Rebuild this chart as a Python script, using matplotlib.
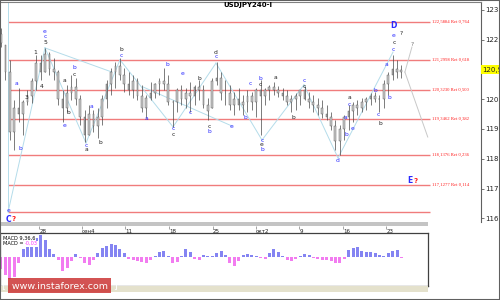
import matplotlib
import matplotlib.pyplot as plt
import numpy as np
from matplotlib.patches import Rectangle

matplotlib.use("Agg")

# half-day bars, x measured in trading days
bar_x = np.arange(92) * 0.5
highs = [122.39, 121.82, 121.32, 119.97, 120.38, 119.97, 120.31, 120.71, 121.48, 121.48,
         121.72, 121.58, 121.38, 120.98, 120.31, 120.48, 120.81, 120.71, 120.14, 119.64,
         119.81, 119.64, 119.70, 120.14, 120.64, 121.05, 121.25, 121.38, 121.05, 120.91,
         120.81, 120.71, 120.48, 120.14, 120.58, 120.54, 120.71, 121.05, 120.81, 119.97,
         120.38, 120.48, 120.38, 120.58, 120.48, 120.64, 120.48, 120.04, 120.71, 121.25,
         120.91, 120.64, 120.48, 120.24, 120.38, 120.14, 120.31, 120.24, 120.38, 120.64,
         120.38, 120.48, 120.58, 120.44, 120.38, 120.31, 120.14, 120.21, 120.31, 120.44,
         120.24, 120.14, 120.04, 119.97, 119.81, 119.57, 119.30, 119.13, 119.47, 119.81,
         119.91, 119.97, 120.04, 120.07, 120.21, 120.24, 120.14, 120.64, 120.91, 121.48,
         121.32, 121.15]
lows = [121.75, 120.64, 118.63, 118.30, 119.23, 118.80, 119.81, 119.87, 120.31, 120.64,
        120.91, 120.81, 120.64, 119.81, 119.23, 119.57, 119.97, 119.81, 119.13, 118.56,
        118.80, 118.90, 118.70, 119.13, 119.70, 120.14, 120.38, 120.64, 120.24, 120.14,
        120.04, 119.97, 119.57, 119.37, 119.97, 120.04, 120.14, 120.31, 119.81, 119.07,
        119.57, 119.81, 119.70, 119.57, 119.81, 119.97, 119.70, 119.30, 119.70, 120.48,
        119.97, 119.81, 119.64, 119.47, 119.64, 119.47, 119.57, 119.64, 119.40, 118.80,
        119.81, 119.97, 120.14, 120.07, 119.97, 119.81, 119.57, 119.64, 119.81, 119.97,
        119.70, 119.57, 119.47, 119.37, 119.30, 118.97, 118.30, 118.13, 118.63, 118.97,
        119.23, 119.47, 119.57, 119.64, 119.81, 119.91, 119.57, 119.70, 120.14, 120.64,
        120.71, 120.71]
closes = [121.90, 120.90, 118.90, 119.70, 119.50, 119.90, 120.10, 120.60, 121.20, 120.90,
          121.50, 121.00, 120.90, 120.00, 119.70, 120.20, 120.40, 120.00, 119.40, 118.80,
          119.50, 119.10, 119.40, 120.00, 120.50, 120.90, 121.10, 120.80, 120.50, 120.30,
          120.60, 120.10, 119.70, 120.05, 120.20, 120.50, 120.60, 120.50, 119.90, 119.90,
          120.30, 120.00, 120.20, 120.10, 120.40, 120.30, 119.80, 119.60, 120.60, 120.70,
          120.20, 120.20, 119.80, 120.00, 119.80, 119.90, 120.10, 119.90, 120.30, 120.10,
          120.30, 120.40, 120.30, 120.20, 120.10, 119.90, 120.00, 120.10, 120.30, 120.00,
          119.90, 119.80, 119.70, 119.50, 119.40, 119.10, 118.60, 119.00, 119.40, 119.60,
          119.80, 119.70, 119.90, 120.00, 120.10, 120.00, 120.00, 120.50, 120.80, 121.00,
          120.90, 120.99]
first_open = 122.20

macd_hist = [-0.24, -0.36, -0.44, -0.40, -0.12, 0.16, 0.24, 0.30, 0.38, 0.44,
             0.34, 0.16, 0.06, -0.06, -0.28, -0.22, -0.08, 0.06, -0.02, -0.12,
             -0.16, -0.06, 0.08, 0.18, 0.22, 0.26, 0.24, 0.16, 0.08, -0.04,
             -0.06, -0.08, -0.10, -0.12, -0.06, 0.02, 0.10, 0.12, 0.02, -0.12,
             -0.10, 0.02, 0.16, 0.10, -0.04, -0.06, 0.04, 0.02, 0.02, 0.08,
             0.12, 0.04, -0.12, -0.18, -0.08, 0.04, 0.06, 0.04, 0.02, -0.02,
             -0.04, 0.08, 0.16, 0.10, 0.02, -0.06, -0.08, -0.04, 0.02, 0.06,
             0.04, -0.02, -0.04, -0.06, -0.06, -0.08, -0.12, -0.12, -0.04, 0.14,
             0.18, 0.20, 0.12, 0.10, 0.10, 0.08, 0.04, 0.02, 0.08, 0.12,
             0.14, -0.02]

level_prices = [122.5884, 121.2998, 120.3230, 119.3462, 118.1376, 117.1277]
level_ratios = ["0,764", "0,618", "0,500", "0,382", "0,236", "0,114"]
base_level = 116.2

price_ticks = [116, 117, 118, 119, 120, 122, 123]
last_price = 120.992

date_ticks = [4.35, 9.17, 14.1, 19.1, 24.1, 29.0, 33.9, 38.9, 43.8]
date_labels = ["28", "сен4", "11", "18", "25", "окт2", "9", "16", "23"]

# wave count lines (day, price) pairs
wave_x = [[0.8, 0.8], [0.8, 5.0], [5.0, 12.61], [5.0, 9.66], [9.66, 13.52], [13.52, 19.55],
          [19.55, 24.43], [16.14, 26.25], [24.43, 29.66], [29.66, 34.43], [34.43, 38.3],
          [38.3, 44.55]]
wave_y = [[123.26, 116.21], [116.21, 121.72], [121.72, 120.91], [121.72, 118.53],
          [118.53, 121.32], [121.32, 119.07], [119.07, 121.21], [120.41, 119.10],
          [121.21, 118.63], [118.63, 120.48], [120.48, 118.03], [118.03, 121.58]]
future_x = [[45.9, 46.7], [45.9, 48.5]]
future_y = [[120.91, 121.75], [120.91, 118.73]]

# wave labels: text, day, price, colour key
wave_labels = [
    ("a", 1.70, 120.54, "b"), ("b", 2.16, 118.33, "b"), ("3", 2.84, 120.07, "k"),
    ("1", 3.86, 121.55, "k"), ("4", 4.66, 120.41, "k"), ("e", 5.0, 122.26, "b"),
    ("c", 5.0, 122.09, "b"), ("5", 5.0, 121.89, "k"), ("a", 7.16, 120.64, "k"),
    ("e", 7.16, 119.13, "b"), ("b", 7.61, 119.57, "k"), ("b", 8.3, 121.05, "b"),
    ("c", 8.3, 120.84, "k"), ("a", 10.23, 119.74, "b"), ("c", 9.66, 118.46, "b"),
    ("a", 9.66, 118.30, "k"), ("b", 11.25, 118.56, "k"), ("b", 13.64, 121.68, "k"),
    ("c", 13.64, 121.48, "b"), ("a", 16.48, 119.34, "b"), ("b", 18.86, 121.18, "b"),
    ("c", 19.55, 119.0, "b"), ("c", 19.55, 118.80, "k"), ("e", 20.68, 120.85, "b"),
    ("c", 21.48, 119.57, "b"), ("b", 22.6, 120.71, "k"), ("c", 23.64, 119.07, "k"),
    ("b", 23.64, 118.90, "b"), ("d", 24.43, 121.58, "k"), ("c", 24.43, 121.42, "b"),
    ("e", 26.25, 119.10, "b"), ("b", 27.8, 119.40, "b"), ("c", 28.3, 120.51, "b"),
    ("b", 29.43, 120.68, "b"), ("c", 29.43, 120.48, "k"), ("c", 29.66, 118.63, "b"),
    ("e", 29.66, 118.47, "k"), ("b", 29.66, 118.30, "b"), ("a", 31.14, 120.74, "k"),
    ("b", 33.2, 119.40, "k"), ("c", 34.43, 120.64, "b"), ("c", 34.43, 120.41, "k"),
    ("d", 38.3, 117.93, "b"), ("a", 39.1, 119.40, "b"), ("a", 39.55, 120.04, "k"),
    ("c", 39.55, 119.81, "b"), ("b", 39.3, 118.80, "b"), ("e", 40.0, 119.03, "b"),
    ("b", 42.5, 120.28, "b"), ("c", 42.84, 119.47, "b"), ("b", 43.07, 119.20, "k"),
    ("b", 44.09, 120.04, "b"), ("a", 43.75, 121.15, "b"), ("c", 44.55, 121.65, "b"),
    ("c", 44.66, 121.89, "k"), ("e", 44.55, 122.15, "b"), ("?", 45.45, 122.19, "k"),
    ("?", 46.7, 121.85, "g"), ("e", 0.8, 116.27, "b"),
]
big_labels = [("D", 44.55, 122.46, "b"), ("E", 46.5, 117.26, "b"), ("C", 0.8, 115.98, "b")]
question_marks = [(47.1, 117.26), (1.45, 115.98)]

label_colors = {"b": "#2a2aff", "k": "#202020", "g": "#707070"}

fig = plt.figure(figsize=(5, 3), dpi=100)
fig.patch.set_facecolor("white")

# main price panel
ax = fig.add_axes([0, 1 - 222 / 300, 481 / 500, 220 / 300])
ax.set_xlim(-0.114, 54.55)
ax.set_ylim(115.88, 123.26)
for side in ["left", "bottom"]:
    ax.spines[side].set_visible(False)
ax.spines["top"].set_color("#808080")
ax.spines["right"].set_color("#606060")
ax.spines["right"].set_linewidth(0.8)
ax.set_xticks([])
ax.yaxis.tick_right()
ax.set_yticks(price_ticks)
ax.set_yticklabels([f"{v:.3f}".replace(".", ",") for v in price_ticks], fontsize=5, color="#202020")
ax.tick_params(axis="y", length=2, pad=1, width=0.6, color="#606060")
ax.text(1.003, last_price, f"{last_price:.3f}".replace(".", ","), transform=ax.get_yaxis_transform(),
        fontsize=5, ha="left", va="center", color="#202020",
        bbox=dict(facecolor="#ffff00", edgecolor="none", pad=0.8))

# fib levels
ax.hlines(level_prices + [base_level], 0.8, 48.75, color="#f07c7c", lw=1.0, zorder=1)
for p, r in zip(level_prices, level_ratios):
    ax.text(49.0, p, f"{p:.4f}".replace(".", ",") + " Ret " + r, fontsize=3.4,
            color="#ff2020", va="center", ha="left", family="Liberation Serif")

# wave lines
for xs, ys in zip(wave_x, wave_y):
    ax.plot(xs, ys, color="#b4dcea", lw=0.7, zorder=2)
for xs, ys in zip(future_x, future_y):
    ax.plot(xs, ys, color="#c8c8c8", lw=0.7, zorder=2)

# candles
opens = np.clip(np.r_[first_open, closes[:-1]], lows, highs)
closes_arr = np.array(closes)
ax.vlines(bar_x, lows, highs, color="#484848", lw=0.5, zorder=3)
body_lo = np.minimum(opens, closes_arr)
body_h = np.maximum(np.abs(closes_arr - opens), 0.02)
ax.bar(bar_x, body_h, bottom=body_lo, width=0.2, color="#c8c8c8", edgecolor="#555555",
       linewidth=0.3, zorder=4)

# wave labels
for txt, x, y, c in wave_labels:
    ax.text(x, y, txt, fontsize=4.3, color=label_colors[c], ha="center", va="center", zorder=5)
for txt, x, y, c in big_labels:
    ax.text(x, y, txt, fontsize=5.5, color=label_colors[c], ha="center", va="center",
            weight="bold", zorder=5)
for x, y in question_marks:
    ax.text(x, y, "?", fontsize=5, color="#ff2020", ha="center", va="center", weight="bold", zorder=5)

fig.text(248 / 500, 1 - 5 / 300, "USDJPY240-I", fontsize=5, weight="bold", ha="center", va="center")

# date strip
dax = fig.add_axes([0, 1 - 226 / 300, 428 / 500, 4 / 300])
dax.set_facecolor("#c4c4c4")
dax.set_xlim(-0.114, 48.52)
dax.set_yticks([])
for s in dax.spines.values():
    s.set_visible(False)
dax.set_xticks(date_ticks)
dax.set_xticklabels(date_labels, fontsize=4, ha="left", color="#202020")
dax.tick_params(axis="x", length=2, pad=0.5, width=0.5, color="#808080")

# MACD panel
mac = fig.add_axes([0, 1 - 286 / 300, 428 / 500, 53 / 300])
mac.set_xlim(-0.114, 48.52)
mac.set_ylim(-0.58, 0.48)
mac.set_xticks([])
mac.set_yticks([])
for s in mac.spines.values():
    s.set_color("#404040")
    s.set_linewidth(0.9)
hist = np.array(macd_hist)
mac.bar(bar_x, hist, width=0.34, color=np.where(hist >= 0, "#8484f2", "#f27cf0"), linewidth=0)
mac.text(0.007, 0.91, "MACD 9,36,6", transform=mac.transAxes, fontsize=3.6, va="center",
         bbox=dict(facecolor="white", edgecolor="none", pad=0.4))
mac.text(0.007, 0.80, "MACD =", transform=mac.transAxes, fontsize=3.6, va="center",
         bbox=dict(facecolor="white", edgecolor="none", pad=0.4))
mac.text(0.058, 0.80, "-0,03", transform=mac.transAxes, fontsize=3.6, va="center", color="#ff30ff",
         bbox=dict(facecolor="white", edgecolor="none", pad=0.4))

# bottom strip and watermark
fig.add_artist(Rectangle((0, 1 - 292 / 300), 428 / 500, 6 / 300, transform=fig.transFigure,
                         facecolor="#e4e1cc", edgecolor="none"))
fig.add_artist(Rectangle((8 / 500, 1 - 293 / 300), 103 / 500, 15 / 300, transform=fig.transFigure,
                         facecolor="#cc3535", edgecolor="none", alpha=0.85))
fig.text(59.5 / 500, 1 - 285.5 / 300, "[  www.instaforex.com  ]", fontsize=6.8, color="white",
         ha="center", va="center")

fig.add_artist(Rectangle((0, 0), 1, 1, transform=fig.transFigure, fill=False,
                         edgecolor="#606060", linewidth=1.5))

plt.savefig("out.png", dpi=100)
plt.close(fig)
